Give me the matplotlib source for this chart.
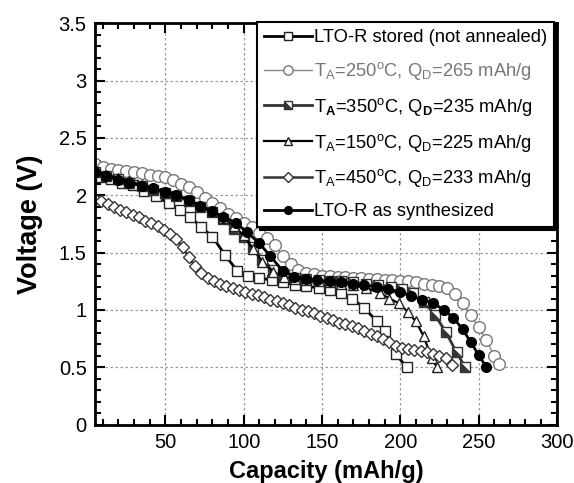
import numpy as np
import matplotlib
matplotlib.use("Agg")
import matplotlib.pyplot as plt
from matplotlib.ticker import MultipleLocator
from matplotlib.legend_handler import HandlerTuple

plt.rcParams["font.family"] = ["Liberation Sans", "DejaVu Sans"]
plt.rcParams["mathtext.fontset"] = "custom"
plt.rcParams["mathtext.rm"] = "Liberation Sans"
plt.rcParams["mathtext.bf"] = "Liberation Sans:bold"

# LTO-R stored (not annealed)
cap_stored = [5, 9, 15, 22, 29, 36, 44, 52, 59, 66, 73, 80, 88, 96, 103, 110,
              118, 125, 133, 140, 148, 155, 162, 169, 177, 185, 190, 197, 204]
v_stored = [2.18, 2.16, 2.14, 2.11, 2.09, 2.04, 1.99, 1.93, 1.87, 1.81, 1.72,
            1.64, 1.48, 1.34, 1.30, 1.28, 1.26, 1.24, 1.22, 1.21, 1.19, 1.17,
            1.15, 1.10, 1.02, 0.90, 0.82, 0.62, 0.50]

# T_A = 250 C
cap_250 = [5, 10, 15, 20, 25, 30, 35, 40, 45, 50, 55, 60, 65, 70, 75, 80, 85,
           90, 95, 100, 105, 110, 115, 120, 125, 130, 135, 140, 145, 150, 155,
           160, 165, 170, 175, 180, 185, 190, 195, 200, 205, 210, 215, 220,
           225, 230, 235, 240, 245, 250, 255, 260, 263]
v_250 = [2.27, 2.25, 2.23, 2.22, 2.21, 2.20, 2.19, 2.18, 2.17, 2.16, 2.13,
         2.10, 2.07, 2.03, 1.98, 1.93, 1.89, 1.84, 1.80, 1.76, 1.72, 1.67,
         1.63, 1.57, 1.47, 1.40, 1.35, 1.32, 1.31, 1.30, 1.30, 1.29, 1.29,
         1.28, 1.28, 1.27, 1.27, 1.26, 1.26, 1.25, 1.25, 1.24, 1.23, 1.22,
         1.21, 1.19, 1.14, 1.06, 0.96, 0.85, 0.74, 0.60, 0.53]

# T_A = 350 C
cap_350 = [5, 12, 20, 27, 35, 42, 50, 57, 65, 72, 80, 87, 94, 100, 106, 112,
           119, 126, 133, 140, 148, 155, 162, 170, 178, 186, 194, 201, 208,
           215, 222, 229, 236, 241.5]
v_350 = [2.20, 2.17, 2.14, 2.11, 2.08, 2.05, 2.02, 1.99, 1.95, 1.90, 1.85,
         1.79, 1.71, 1.64, 1.55, 1.44, 1.35, 1.30, 1.28, 1.27, 1.26, 1.25,
         1.25, 1.24, 1.23, 1.22, 1.20, 1.18, 1.15, 1.07, 0.96, 0.81, 0.63,
         0.50]

# T_A = 150 C
cap_150 = [5, 12, 20, 27, 35, 42, 50, 57, 65, 72, 80, 87, 94, 100, 106, 112,
           119, 126, 133, 140, 148, 155, 162, 170, 178, 187, 193, 199, 205,
           210, 215, 220, 223.5]
v_150 = [2.21, 2.18, 2.15, 2.12, 2.09, 2.06, 2.03, 2.00, 1.96, 1.91, 1.86,
         1.80, 1.73, 1.65, 1.53, 1.42, 1.33, 1.29, 1.27, 1.26, 1.25, 1.24,
         1.23, 1.22, 1.19, 1.15, 1.10, 1.06, 0.98, 0.90, 0.77, 0.58, 0.50]

# T_A = 450 C
cap_450 = [5, 9, 13, 17, 21, 25, 29, 33, 37, 41, 45, 49, 53, 57, 61, 65, 69,
           73, 77, 81, 85, 89, 93, 97, 101, 105, 109, 113, 117, 121, 125, 129,
           133, 137, 141, 145, 149, 153, 157, 161, 165, 169, 173, 177, 181,
           185, 189, 193, 197, 201, 205, 209, 213, 217, 221, 225, 229, 233]
v_450 = [1.97, 1.95, 1.92, 1.90, 1.87, 1.85, 1.83, 1.81, 1.78, 1.76, 1.73,
         1.70, 1.665, 1.615, 1.545, 1.46, 1.38, 1.32, 1.28, 1.25, 1.23, 1.21,
         1.19, 1.17, 1.16, 1.14, 1.13, 1.11, 1.09, 1.08, 1.06, 1.04, 1.02,
         1.00, 0.99, 0.97, 0.95, 0.93, 0.91, 0.89, 0.88, 0.86, 0.84, 0.82,
         0.79, 0.77, 0.75, 0.72, 0.69, 0.67, 0.66, 0.65, 0.64, 0.63, 0.62,
         0.60, 0.58, 0.52]

# LTO-R as synthesized
cap_synth = [5, 12, 20, 27, 35, 42, 50, 57, 65, 72, 80, 87, 95, 102, 110, 117,
             125, 132, 140, 147, 155, 162, 170, 177, 185, 192, 200, 207, 214,
             221, 228, 234, 240, 245, 250, 255]
v_synth = [2.20, 2.17, 2.13, 2.11, 2.08, 2.06, 2.03, 2.00, 1.96, 1.91, 1.86,
           1.81, 1.76, 1.68, 1.58, 1.47, 1.34, 1.29, 1.27, 1.26, 1.25, 1.24,
           1.23, 1.22, 1.20, 1.18, 1.16, 1.12, 1.09, 1.06, 1.00, 0.93, 0.83,
           0.72, 0.61, 0.50]

labels = [
    "LTO-R stored (not annealed)",
    r"T$_\mathrm{A}$=250$^\mathrm{o}$C, Q$_\mathrm{D}$=265 mAh/g",
    r"T$_\mathbf{A}$=350$^\mathrm{o}$C, Q$_\mathbf{D}$=235 mAh/g",
    r"T$_\mathrm{A}$=150$^\mathrm{o}$C, Q$_\mathrm{D}$=225 mAh/g",
    r"T$_\mathrm{A}$=450$^\mathrm{o}$C, Q$_\mathrm{D}$=233 mAh/g",
    "LTO-R as synthesized",
]

fig = plt.figure(figsize=(5.74, 4.83), dpi=100)
ax = fig.add_axes([0.1655, 0.1207, 0.8045, 0.8313])

h1, = ax.plot(cap_stored, v_stored, color="black", lw=2.0, marker="s",
              ms=6.8, mfc="white", mec="#222222", mew=1.0)
h2, = ax.plot(cap_250, v_250, color="#888888", lw=1.0, marker="o",
              ms=8.4, mfc="white", mec="#777777", mew=1.0)
h3a, = ax.plot(cap_350, v_350, color="#333333", lw=2.0, marker="s",
               ms=6.8, mfc="white", mec="#333333", mew=1.0)
tri = [(-1, -1), (1, -1), (-1, 1), (-1, -1)]
h3b, = ax.plot(cap_350, v_350, ls="none", marker=tri, ms=6.3,
               mfc="#333333", mec="#333333", mew=0.5)
h4, = ax.plot(cap_150, v_150, color="black", lw=1.6, marker="^",
              ms=7.0, mfc="white", mec="#222222", mew=1.0)
h5, = ax.plot(cap_450, v_450, color="#333333", lw=1.8, marker="D",
              ms=6.3, mfc="white", mec="#333333", mew=1.0)
h6, = ax.plot(cap_synth, v_synth, color="black", lw=2.0, marker="o",
              ms=7, mfc="black", mec="black")

ax.set_xlim(5, 300)
ax.set_ylim(0, 3.5)
ax.xaxis.set_major_locator(MultipleLocator(50))
ax.xaxis.set_minor_locator(MultipleLocator(10))
ax.yaxis.set_major_locator(MultipleLocator(0.5))
ax.yaxis.set_minor_locator(MultipleLocator(0.1))
ax.set_xticks([50, 100, 150, 200, 250, 300])
ax.set_yticks([0, 0.5, 1, 1.5, 2, 2.5, 3, 3.5])
ax.set_yticklabels(["0", "0.5", "1", "1.5", "2", "2.5", "3", "3.5"])
ax.grid(True, which="major", ls=(0, (2, 2)), color="#999999", lw=0.9)
ax.tick_params(which="both", direction="in", top=True, right=True,
               labelsize=14.5, width=1.5)
ax.tick_params(which="major", length=7, pad=6)
ax.tick_params(which="minor", length=4)
for s in ax.spines.values():
    s.set_linewidth(2.0)

ax.set_xlabel("Capacity (mAh/g)", fontsize=17, fontweight="bold", labelpad=6)
ax.set_ylabel("Voltage (V)", fontsize=19.5, fontweight="bold", labelpad=11)

leg = ax.legend([h1, h2, (h3a, h3b), h4, h5, h6], labels,
                handler_map={tuple: HandlerTuple(ndivide=1, pad=0)},
                loc="upper right", bbox_to_anchor=(0.995, 1.003),
                fontsize=13.2, handlelength=2.6, handletextpad=0.1,
                labelspacing=0.75, borderpad=0.4, borderaxespad=0.0,
                markerscale=0.8,
                fancybox=False, framealpha=1, edgecolor="black",
                shadow={"color": "black", "alpha": 1})
leg.get_frame().set_linewidth(1.5)
leg.get_texts()[1].set_color("#777777")

fig.savefig("out.png", dpi=100)
